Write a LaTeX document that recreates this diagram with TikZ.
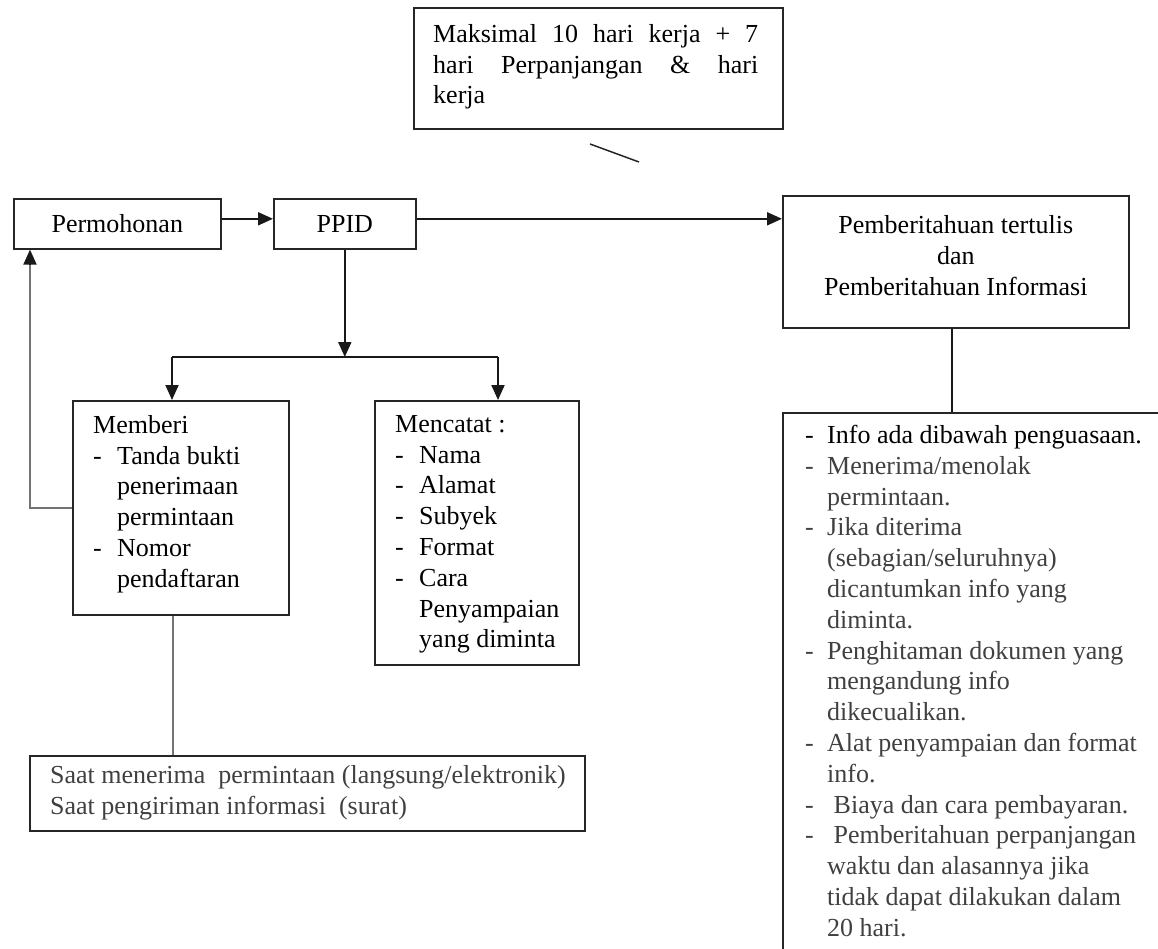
\documentclass[tikz,border=0pt]{standalone}
\usepackage{fontspec}
\setmainfont{Liberation Serif}
\usetikzlibrary{arrows.meta,calc}
\newcommand\fs{\fontsize{26pt}{30.8pt}\selectfont}
\newcommand\itm[1]{\makebox[24pt][l]{-}#1}
\newcommand\cnt[1]{\hspace*{24pt}#1}
\newcommand\itmr[1]{\makebox[22pt][l]{-}#1}
\newcommand\cntr[1]{\hspace*{22pt}#1}
\begin{document}
\begin{tikzpicture}[x=1pt,y=-1pt,
  box/.style={draw=black!85, line width=1.6pt, inner sep=0pt, anchor=north west, font=\fs},
  txt/.style={inner sep=0pt, anchor=north west, align=left, font=\fs},
  conn/.style={line width=1.9pt, draw=black!90},
  arr/.style={conn, -{Triangle[length=15pt,width=13pt]}},
  gconn/.style={line width=2.3pt, draw=black!55},
]
\useasboundingbox (0,0) rectangle (1158,948);
\clip (0,0) rectangle (1158,948);

% top note
\node[box, minimum width=369pt, minimum height=121pt] (note) at (413,7) {};
\node[txt] (noteT) at (433,24) {\makebox[325pt][s]{Maksimal 10 hari kerja + 7}\\\makebox[325pt][s]{hari Perpanjangan \& hari}\\kerja};
\coordinate (d1) at (590,144);
\coordinate (d2) at (639,162);
\draw[line width=1.5pt, black!85] (d1) -- (d2);

% main row
\node[box, minimum width=207pt, minimum height=50pt] (perm) at (13,198) {Permohonan};
\node[box, minimum width=142pt, minimum height=50pt] (ppid) at (273,198) {PPID};
\node[box, minimum width=346pt, minimum height=132pt] (pember) at (782,195) {};
\node[txt, anchor=center, align=center, yshift=6pt] (pemberT) at (pember.center) {Pemberitahuan tertulis\\dan\\Pemberitahuan Informasi};

% Memberi
\node[box, minimum width=216pt, minimum height=214pt] (memberi) at (72,400) {};
\node[txt] (memberiT) at (93,415) {Memberi\\\itm{Tanda bukti}\\\cnt{penerimaan}\\\cnt{permintaan}\\\itm{Nomor}\\\cnt{pendaftaran}};

% Mencatat
\node[box, minimum width=204pt, minimum height=264pt] (catat) at (374,400) {};
\node[txt] (catatT) at (395,415) {Mencatat :\\\itm{Nama}\\\itm{Alamat}\\\itm{Subyek}\\\itm{Format}\\\itm{Cara}\\\cnt{Penyampaian}\\\cnt{yang diminta}};

% Saat
\node[box, minimum width=555pt, minimum height=75pt] (saat) at (29,755) {};
\node[txt, text=black!75] (saatT) at (50,765) {Saat menerima\ \ permintaan (langsung/elektronik)\\Saat pengiriman informasi\ \ (surat)};

% right info box (runs off the page)
\node[box, line width=2.1pt, minimum width=420pt, minimum height=600pt] (info) at (782,412) {};
\node[txt, text=black!75] (infoT) at (805,425) {\textcolor{black}{\itmr{Info ada dibawah penguasaan.}}\\
\itmr{Menerima/menolak}\\
\cntr{permintaan.}\\
\itmr{Jika diterima}\\
\cntr{(sebagian/seluruhnya)}\\
\cntr{dicantumkan info yang}\\
\cntr{diminta.}\\
\itmr{Penghitaman dokumen yang}\\
\cntr{mengandung info}\\
\cntr{dikecualikan.}\\
\itmr{Alat penyampaian dan format}\\
\cntr{info.}\\
\itmr{\ Biaya dan cara pembayaran.}\\
\itmr{\ Pemberitahuan perpanjangan}\\
\cntr{waktu dan alasannya jika}\\
\cntr{tidak dapat dilakukan dalam}\\
\cntr{20 hari.}};

% connectors
\coordinate (a1) at ([yshift=5pt]perm.east);
\draw[arr] (a1) -- (a1 -| ppid.west);
\coordinate (a2) at ([yshift=5pt]ppid.east);
\draw[arr] (a2) -- (a2 -| pember.west);
\coordinate (j) at (ppid.south |- 0,357);
\draw[arr] (ppid.south) -- (j);
\coordinate (jl) at (172,357);
\coordinate (jr) at (498,357);
\draw[conn] (jl) -- (jr);
\draw[arr] (jl) -- (jl |- memberi.north);
\draw[arr] (jr) -- (jr |- catat.north);
\coordinate (rx) at (30,0);
\draw[gconn] (memberi.west) -| ([yshift=-14pt]rx |- perm.south);
\draw[arr] ([yshift=-14pt]rx |- perm.south) -- (rx |- perm.south);
\coordinate (mx) at (173,0);
\draw[gconn] (mx |- memberi.south) -- (mx |- saat.north);
\coordinate (px) at (952,0);
\draw[conn] (px |- pember.south) -- (px |- info.north);
\end{tikzpicture}
\end{document}
